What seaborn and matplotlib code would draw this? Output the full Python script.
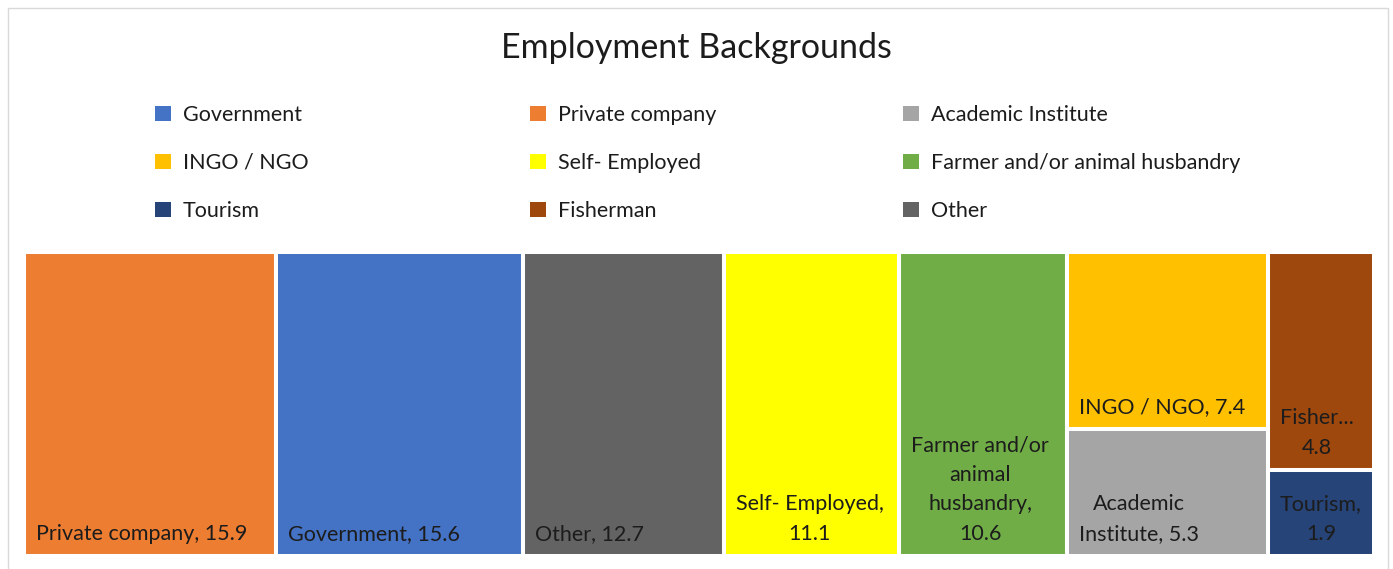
import matplotlib
matplotlib.use("Agg")
import matplotlib.pyplot as plt
from matplotlib.patches import Patch, Rectangle
import seaborn as sns

# Employment background shares (%), in source order
categories = ["Government", "Private company", "Academic Institute", "INGO / NGO",
              "Self- Employed", "Farmer and/or animal husbandry", "Tourism",
              "Fisherman", "Other"]
shares = [15.6, 15.9, 5.3, 7.4, 11.1, 10.6, 1.9, 4.8, 12.7]
colors = ["#4472C4", "#ED7D31", "#A5A5A5", "#FFC000", "#FFFF00",
          "#70AD47", "#264478", "#9E480E", "#636363"]
# captions as they are wrapped inside the tiles
tile_names = ["Government", "Private company", "Academic\nInstitute", "INGO / NGO",
              "Self- Employed", "Farmer and/or\nanimal\nhusbandry", "Tourism",
              "Fisher...", "Other"]
value_breaks = [" ", " ", " ", " ", "\n", "\n", "\n", "\n", " "]

sns.set_theme(style="white")
plt.rcParams["font.family"] = ["Lato", "DejaVu Sans"]

TEXT = "#1c1c1c"
FS = 15.5


def worst(row, side):
    s = sum(row)
    return max(max(side ** 2 * r / s ** 2, s ** 2 / (side ** 2 * r)) for r in row)


def squarify(areas, x, y, w, h):
    """Squarified treemap layout; y grows downward."""
    rects = []
    areas = list(areas)
    while areas:
        side = min(w, h)
        row = [areas.pop(0)]
        while areas and worst(row + [areas[0]], side) <= worst(row, side):
            row.append(areas.pop(0))
        s = sum(row)
        if w >= h:
            cw = s / h
            yy = y
            for a in row:
                rh = a / cw
                rects.append((x, yy, cw, rh))
                yy += rh
            x += cw
            w -= cw
        else:
            rh = s / w
            xx = x
            for a in row:
                cw = a / rh
                rects.append((xx, y, cw, rh))
                xx += cw
            y += rh
            h -= rh
    return rects


fig = plt.figure(figsize=(13.93, 5.69), dpi=100)
FW, FH = 1393, 569

# outer chart frame
fig.patches.append(Rectangle((8 / FW, -0.05), 1380 / FW, 1 - 8 / FH + 0.05,
                             transform=fig.transFigure, fill=False,
                             edgecolor="#d9d9d9", linewidth=1.0))

fig.text(0.5, 1 - 48 / FH, "Employment Backgrounds", ha="center", va="center",
         fontsize=24.5, color=TEXT)

ax = fig.add_axes([24 / FW, 13 / FH, 1350 / FW, 304 / FH])
W, H = ax.bbox.width, ax.bbox.height
ax.set_xlim(0, W)
ax.set_ylim(H, 0)
ax.axis("off")

order = sorted(range(len(shares)), key=lambda i: -shares[i])
total = sum(shares)
areas = [shares[i] / total * W * H for i in order]
rects = squarify(areas, 0, 0, W, H)

xs = [r[0] for r in rects]
ys = [r[1] for r in rects]
ws = [r[2] for r in rects]
hs = [r[3] for r in rects]
ax.bar(xs, hs, width=ws, bottom=ys, align="edge",
       color=[colors[i] for i in order], edgecolor="white", linewidth=2.9)

for (x, y, w, h), i in zip(rects, order):
    name = tile_names[i]
    sep = "" if name.endswith("...") else ","
    label = f"{name}{sep}{value_breaks[i]}{shares[i]}"
    ax.annotate(label, xy=(x, y + h), xytext=(12, 12), textcoords="offset pixels",
                ha="left", va="bottom", multialignment="center",
                fontsize=FS, color=TEXT, linespacing=1.6)

# legend laid out in three columns, filled row by row
col_x = [155, 530, 903]
for c in range(3):
    idx = [r * 3 + c for r in range(3)]
    handles = [Patch(facecolor=colors[i], edgecolor="none", label=categories[i])
               for i in idx]
    fig.legend(handles=handles, loc="upper left",
               bbox_to_anchor=(col_x[c] / FW, 1 - 105 / FH),
               frameon=False, fontsize=FS, handlelength=0.75, handleheight=0.75,
               handletextpad=0.55, labelspacing=1.3, borderpad=0,
               borderaxespad=0, labelcolor=TEXT)

fig.savefig("out.png", dpi=100)
